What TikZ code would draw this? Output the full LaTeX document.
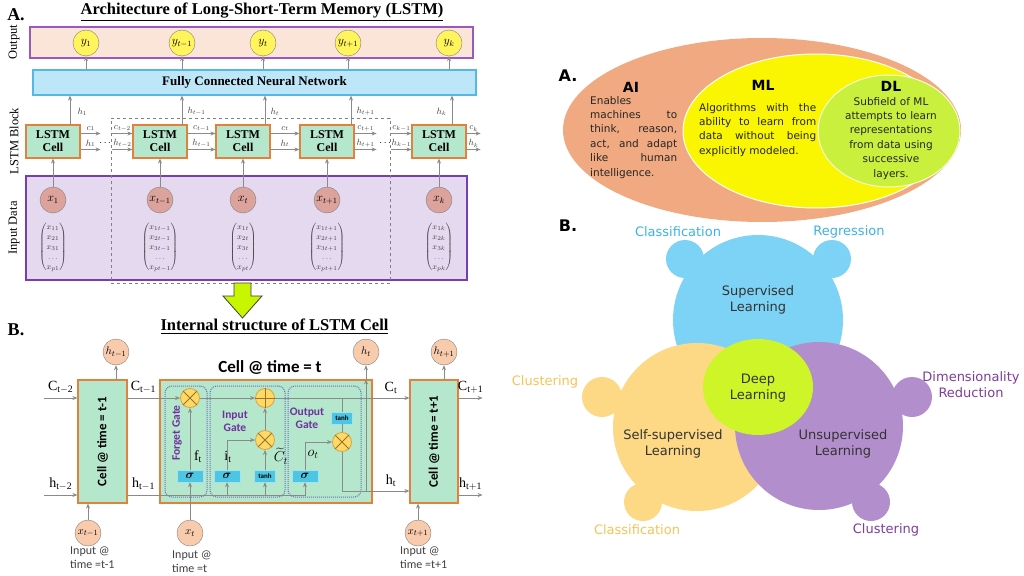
\documentclass[tikz,border=0pt]{standalone}
\usepackage{amsmath}
\usepackage{fontspec}
\setmainfont{Liberation Serif}
\newfontfamily\calfont{Carlito}
\newfontfamily\verfont{DejaVu Sans}
\usetikzlibrary{shapes.geometric,calc,arrows.meta,positioning,fit,backgrounds}

\definecolor{outpink}{HTML}{FBE4D8}
\definecolor{outline}{HTML}{9B59C0}
\definecolor{fcnblue}{HTML}{BDE7F8}
\definecolor{fcnline}{HTML}{52B8E8}
\definecolor{cellgreen}{HTML}{B4E7CB}
\definecolor{cellline}{HTML}{E2803C}
\definecolor{inlav}{HTML}{E5D9EF}
\definecolor{inpurple}{HTML}{7A3DB0}
\definecolor{xrose}{HTML}{DCA29C}
\definecolor{yyellow}{HTML}{FFF45C}
\definecolor{peach}{HTML}{F8CBAD}
\definecolor{gateyel}{HTML}{FFD966}
\definecolor{opline}{HTML}{D9A441}
\definecolor{sigcyan}{HTML}{4CC6E3}
\definecolor{gatetxt}{HTML}{7030A0}
\definecolor{gateline}{HTML}{6F6FC8}
\definecolor{arrowlime}{HTML}{C8F500}
\definecolor{aiorange}{HTML}{F0A980}
\definecolor{mlyellow}{HTML}{FAF500}
\definecolor{dlgreen}{HTML}{C9F03C}
\definecolor{supblue}{HTML}{7DD3F5}
\definecolor{supline}{HTML}{3DB3E3}
\definecolor{selfyel}{HTML}{FDD985}
\definecolor{selfline}{HTML}{F5C458}
\definecolor{unspurp}{HTML}{B28ECC}
\definecolor{unsline}{HTML}{7E3E99}
\definecolor{deeplime}{HTML}{CDF527}
\definecolor{wirecol}{HTML}{8A8A8A}

\begin{document}
\begin{tikzpicture}[x=1pt,y=-1pt, >={Stealth[length=5pt,width=4pt]},
    every node/.style={inner sep=0pt},
    band/.style={draw, line width=1.2},
    lstm/.style={draw=cellline, fill=cellgreen, line width=1.2, minimum width=54, minimum height=33, align=center, font=\fontsize{12}{13}\selectfont\bfseries},
    ycirc/.style={circle, draw=gray, fill=yyellow, minimum size=26, font=\fontsize{12}{12}\selectfont},
    xcirc/.style={circle, draw=gray, fill=xrose, minimum size=26, font=\fontsize{12}{12}\selectfont},
    flow/.style={->, draw=wirecol, line width=1},
    lbl/.style={font=\fontsize{9}{9}\selectfont, text=darkgray},
    side/.style={rotate=90, font=\fontsize{12.5}{12.5}\selectfont},
    vec/.style={font=\fontsize{8}{10}\selectfont, text=darkgray},
    cellbox/.style={draw=cellline, fill=cellgreen, line width=1.2, minimum height=123},
    celltxt/.style={rotate=90, font=\calfont\bfseries\fontsize{13}{13}\selectfont},
    pcirc/.style={circle, draw=gray, fill=peach, minimum size=26, font=\fontsize{11}{11}\selectfont},
    gatebox/.style={draw=gateline, densely dotted, line width=1, rounded corners=7, minimum height=111},
    opcirc/.style={circle, draw=opline, fill=gateyel, minimum size=19, line width=0.8},
    sigbox/.style={fill=sigcyan, draw=sigcyan!50!white, minimum width=26, minimum height=12, font=\fontsize{13}{13}\selectfont},
    tanhbox/.style={fill=sigcyan, draw=sigcyan!50!white, minimum width=21, minimum height=12, font=\calfont\bfseries\fontsize{7}{7}\selectfont},
    gatelbl/.style={text=gatetxt, align=center, font=\calfont\bfseries\fontsize{11.5}{13}\selectfont},
    big/.style={font=\fontsize{14}{14}\selectfont},
    inlbl/.style={align=left, text=darkgray, font=\calfont\fontsize{12}{14}\selectfont},
    vhead/.style={font=\verfont\bfseries\fontsize{14}{14}\selectfont},
    vbody/.style={font=\verfont\fontsize{10.5}{14.4}\selectfont, text=black!85},
    vlbl/.style={align=center, font=\verfont\fontsize{13}{16}\selectfont}]

    \path[fill=white, use as bounding box] (0,0) rectangle (1024,575);

    % ---------- A. LSTM architecture
    \node[font=\fontsize{18}{18}\selectfont\bfseries] (labA) at (16,15) {A.};
    \node[font=\fontsize{16.5}{17}\selectfont\bfseries] (titA) at (262,12) {\underline{Architecture of Long-Short-Term Memory (LSTM)}};
    \node[band, draw=outline, fill=outpink, minimum width=443, minimum height=31] (outband) at (251.5,42.5) {};
    \node[band, draw=fcnline, fill=fcnblue, minimum width=443, minimum height=25, font=\fontsize{13}{13}\selectfont\bfseries] (fcn) at (254.5,82.5) {Fully Connected Neural Network};
    \node[band, draw=inpurple, fill=inlav, minimum width=441, minimum height=104] (inband) at (246.5,228) {};
    \node[draw=gray, dashed, line width=0.9, minimum width=279, minimum height=165] (window) at (250.5,200.5) {};
    \node[side] (sOut) at (14,42) {Output};
    \node[side] (sBlock) at (14,141) {LSTM Block};
    \node[side] (sIn) at (14,228) {Input Data};

    \node[ycirc] (y1) at (86,43) {$y_1$};
    \node[ycirc] (y2) at (182,43) {$y_{t-1}$};
    \node[ycirc] (y3) at (263,43) {$y_t$};
    \node[ycirc] (y4) at (348,43) {$y_{t+1}$};
    \node[ycirc] (y5) at (449,43) {$y_k$};
    \draw[flow] (y1 |- fcn.north) -- (y1);
    \draw[flow] (y2 |- fcn.north) -- (y2);
    \draw[flow] (y3 |- fcn.north) -- (y3);
    \draw[flow] (y4 |- fcn.north) -- (y4);
    \draw[flow] (y5 |- fcn.north) -- (y5);

    \node[lstm] (cell1) at (53,141.5) {LSTM\\Cell};
    \node[lstm] (cell2) at (160,141.5) {LSTM\\Cell};
    \node[lstm] (cell3) at (243,141.5) {LSTM\\Cell};
    \node[lstm] (cell4) at (327,141.5) {LSTM\\Cell};
    \node[lstm] (cell5) at (439,141.5) {LSTM\\Cell};
    \draw[flow] ([xshift=17]cell1.north) -- ([xshift=17]cell1.north |- fcn.south) node[lbl, pos=0.45, right=7pt] {$h_1$};
    \draw[flow] ([xshift=22]cell2.north) -- ([xshift=22]cell2.north |- fcn.south) node[lbl, pos=0.45, right=5pt] {$h_{t-1}$};
    \draw[flow] ([xshift=22]cell3.north) -- ([xshift=22]cell3.north |- fcn.south) node[lbl, pos=0.45, right=5pt] {$h_t$};
    \draw[flow] ([xshift=24]cell4.north) -- ([xshift=24]cell4.north |- fcn.south) node[lbl, pos=0.45, right=5pt] {$h_{t+1}$};
    \draw[flow] ([xshift=13]cell5.north) -- ([xshift=13]cell5.north |- fcn.south) node[lbl, pos=0.45, left=5pt] {$h_k$};

    % state arrows between cells
    \draw[flow] ([yshift=8]cell1.east) -- ++(20,0) node[lbl, midway, above=2pt] {$c_1$};
    \draw[flow] ([yshift=-8]cell1.east) -- ++(20,0) node[lbl, midway, above=2pt] {$h_1$};
    \node[font=\bfseries] (dots1) at (106,143) {$\cdots$};
    \draw[flow] ([yshift=8,xshift=-20]cell2.west) -- ([yshift=8]cell2.west) node[lbl, midway, above=2pt] {$c_{t-2}$};
    \draw[flow] ([yshift=-8,xshift=-20]cell2.west) -- ([yshift=-8]cell2.west) node[lbl, midway, above=2pt] {$h_{t-2}$};
    \draw[flow] ([yshift=8]cell2.east) -- ([yshift=8]cell3.west) node[lbl, midway, above=2pt] {$c_{t-1}$};
    \draw[flow] ([yshift=-8]cell2.east) -- ([yshift=-8]cell3.west) node[lbl, midway, above=2pt] {$h_{t-1}$};
    \draw[flow] ([yshift=8]cell3.east) -- ([yshift=8]cell4.west) node[lbl, midway, above=2pt] {$c_t$};
    \draw[flow] ([yshift=-8]cell3.east) -- ([yshift=-8]cell4.west) node[lbl, midway, above=2pt] {$h_t$};
    \draw[flow] ([yshift=8]cell4.east) -- ++(22,0) node[lbl, midway, above=2pt] {$c_{t+1}$};
    \draw[flow] ([yshift=-8]cell4.east) -- ++(22,0) node[lbl, midway, above=2pt] {$h_{t+1}$};
    \node[font=\bfseries] (dots2) at (386,143) {$\cdots$};
    \draw[flow] ([yshift=8,xshift=-20]cell5.west) -- ([yshift=8]cell5.west) node[lbl, midway, above=2pt] {$c_{k-1}$};
    \draw[flow] ([yshift=-8,xshift=-20]cell5.west) -- ([yshift=-8]cell5.west) node[lbl, midway, above=2pt] {$h_{k-1}$};
    \draw[flow] ([yshift=8]cell5.east) -- ++(14,0) node[lbl, midway, above=2pt] {$c_k$};
    \draw[flow] ([yshift=-8]cell5.east) -- ++(14,0) node[lbl, midway, above=2pt] {$h_k$};

    % inputs
    \node[xcirc] (x1) at (53,200) {$x_1$};
    \node[xcirc] (x2) at (160,200) {$x_{t-1}$};
    \node[xcirc] (x3) at (243,200) {$x_t$};
    \node[xcirc] (x4) at (327,200) {$x_{t+1}$};
    \node[xcirc] (x5) at (439,200) {$x_k$};
    \draw[flow] (x1) -- (cell1);
    \draw[flow] (x2) -- (cell2);
    \draw[flow] (x3) -- (cell3);
    \draw[flow] (x4) -- (cell4);
    \draw[flow] (x5) -- (cell5);
    \node[vec] (v1) at (53,247) {$\begin{pmatrix}x_{11}\\x_{21}\\x_{31}\\\dots\\x_{p1}\end{pmatrix}$};
    \node[vec] (v2) at (160,247) {$\begin{pmatrix}x_{1t-1}\\x_{2t-1}\\x_{3t-1}\\\dots\\x_{pt-1}\end{pmatrix}$};
    \node[vec] (v3) at (243,247) {$\begin{pmatrix}x_{1t}\\x_{2t}\\x_{3t}\\\dots\\x_{pt}\end{pmatrix}$};
    \node[vec] (v4) at (327,247) {$\begin{pmatrix}x_{1t+1}\\x_{2t+1}\\x_{3t+1}\\\dots\\x_{pt+1}\end{pmatrix}$};
    \node[vec] (v5) at (439,247) {$\begin{pmatrix}x_{1k}\\x_{2k}\\x_{3k}\\\dots\\x_{pk}\end{pmatrix}$};

    \draw[fill=arrowlime, draw=darkgray, line width=0.8] (234,283) -- (251,283) -- (251,296) -- (262,296) -- (242.5,318) -- (223,296) -- (234,296) -- cycle;

    % ---------- B. inside one cell
    \node[font=\fontsize{18}{18}\selectfont\bfseries] (labB) at (16,330) {B.};
    \node[font=\fontsize{16.5}{17}\selectfont\bfseries] (titB) at (274.5,327) {\underline{Internal structure of LSTM Cell}};
    \node[font=\calfont\bfseries\fontsize{17}{17}\selectfont] (ctitle) at (270,367) {Cell @ time = t};

    \node[cellbox, minimum width=49] (cleft) at (102.5,441.5) {};
    \node[cellbox, minimum width=212] (cmain) at (266,441.5) {};
    \node[cellbox, minimum width=48] (cright) at (434,441.5) {};
    \node[celltxt] (cleftT) at (cleft) {Cell @ time = t-1};
    \node[celltxt] (crightT) at (cright) {Cell @ time = t+1};

    \node[gatebox, minimum width=42] (gforget) at (186,441.5) {};
    \node[gatebox, minimum width=75] (ginput) at (247.5,441.5) {};
    \node[gatebox, minimum width=73] (goutput) at (324.5,441.5) {};
    \node[gatelbl, rotate=90] (gforgetT) at (177,433) {Forget Gate};
    \node[gatelbl] (ginputT) at (235,421) {Input\\Gate};
    \node[gatelbl] (goutputT) at (307,418) {Output\\Gate};

    \node[opcirc] (fx) at (190,398) {};
    \node[opcirc] (ip) at (265,398) {};
    \node[opcirc] (ix) at (265,440) {};
    \node[opcirc] (ox) at (342,442) {};
    \draw[opline!70!black, line width=0.8] (fx.north west) -- (fx.south east) (fx.north east) -- (fx.south west);
    \draw[opline!70!black, line width=0.8] (ix.north west) -- (ix.south east) (ix.north east) -- (ix.south west);
    \draw[opline!70!black, line width=0.8] (ox.north west) -- (ox.south east) (ox.north east) -- (ox.south west);
    \draw[opline!70!black, line width=0.8] (ip.north) -- (ip.south) (ip.west) -- (ip.east);

    \node[sigbox] (fs) at (190,476) {$\boldsymbol{\sigma}$};
    \node[sigbox] (is) at (227,476) {$\boldsymbol{\sigma}$};
    \node[tanhbox] (it) at (265,476) {tanh};
    \node[sigbox] (os) at (305,476) {$\boldsymbol{\sigma}$};
    \node[tanhbox] (ot) at (342,418) {tanh};

    \node[big] (ftL) at (198,457) {$\mathrm{f}_\mathrm{t}$};
    \node[big] (itL) at (228,457) {$\mathrm{i}_\mathrm{t}$};
    \node[big] (ctL) at (281,456) {$\widetilde{C}_t$};
    \node[big] (otL) at (313,454) {$o_t$};

    \node[pcirc] (htm1) at (116,352) {$h_{t-1}$};
    \node[pcirc] (ht) at (366,352) {$h_t$};
    \node[pcirc] (htp1) at (444,352) {$h_{t+1}$};
    \node[pcirc] (xtm1) at (88,533) {$x_{t-1}$};
    \node[pcirc] (xt) at (190,533) {$x_t$};
    \node[pcirc] (xtp1) at (418,533) {$x_{t+1}$};
    \node[inlbl, anchor=north west] (xtm1L) at (70,547) {Input @\\time =t-1};
    \node[inlbl, anchor=north west] (xtL) at (172,551) {Input @\\time =t};
    \node[inlbl, anchor=north west] (xtp1L) at (400,547) {Input @\\time =t+1};

    \coordinate (crow) at (0,398);
    \coordinate (hrow) at (0,495);
    \coordinate (hout) at (0,491);
    \coordinate (cin) at (44,398);
    \coordinate (hin) at (44,495);

    % cell state line
    \draw[flow] (cin) -- (cleft.west |- crow) node[big, midway, above=4pt] {$\mathrm{C}_{\mathrm{t-2}}$};
    \draw[draw=wirecol, line width=1] (cleft.east |- crow) -- (cmain.west |- crow) node[big, midway, above=4pt] {$\mathrm{C}_{\mathrm{t-1}}$};
    \draw[flow] (cmain.west |- crow) -- (fx);
    \draw[flow] (fx) -- (ip);
    \draw[draw=wirecol, line width=1] (ip) -- (cmain.east |- crow);
    \draw[flow] (cmain.east |- crow) -- (cright.west |- crow) node[big, midway, above=4pt] {$\mathrm{C}_{\mathrm{t}}$};
    \draw[flow] (cright.east |- crow) -- ++(24,0) node[big, midway, above=4pt] {$\mathrm{C}_{\mathrm{t+1}}$};

    % hidden state line
    \draw[flow] (hin) -- (cleft.west |- hrow) node[big, midway, above=4pt] {$\mathrm{h}_{\mathrm{t-2}}$};
    \draw[draw=wirecol, line width=1] (cleft.east |- hrow) -- (cmain.west |- hrow) node[big, midway, above=4pt] {$\mathrm{h}_{\mathrm{t-1}}$};
    \draw[flow] (cmain.west |- hrow) -| (os.south);
    \draw[flow] (is |- hrow) -- (is.south);
    \draw[flow] (it |- hrow) -- (it.south);
    \draw[draw=wirecol, line width=1] (ox) |- (cmain.east |- hout);
    \draw[flow] (cmain.east |- hout) -- (cright.west |- hout) node[big, midway, above=4pt] {$\mathrm{h}_{\mathrm{t}}$};
    \draw[flow] (cright.east |- hrow) -- ++(24,0) node[big, midway, above=4pt] {$\mathrm{h}_{\mathrm{t+1}}$};
    \draw[flow] (ht |- hout) -- (ht |- cmain.north);
    \draw[flow] (ht |- cmain.north) -- (ht);

    % gate wiring
    \draw[flow] (xt) -- (fs.south);
    \draw[flow] (fs) -- (fx);
    \draw[flow] (is.north) |- (ix);
    \draw[flow] (it) -- (ix);
    \draw[flow] (ix) -- (ip);
    \draw[draw=wirecol, line width=1] (ot |- crow) -- (ot);
    \draw[draw=wirecol, line width=1] (ot) -- (ox);
    \draw[flow] (os.north) |- (ox);

    \draw[flow] (cleft.north -| htm1) -- (htm1);
    \draw[flow] (cright.north -| htp1) -- (htp1);
    \draw[flow] (xtm1) -- (cleft.south -| xtm1);
    \draw[flow] (xtp1) -- (cright.south -| xtp1);

    % ---------- right A. nested sets
    \node[font=\verfont\bfseries\fontsize{16}{16}\selectfont] (labRA) at (568,76) {A.};
    \node[ellipse, fill=aiorange, minimum width=398, minimum height=184] (ai) at (762,130) {};
    \node[ellipse, fill=mlyellow, draw=white, line width=1, minimum width=266, minimum height=154] (ml) at (816,131) {};
    \node[ellipse, fill=dlgreen, draw=white!80!dlgreen, line width=1, minimum width=142, minimum height=112] (dl) at (889,131) {};
    \node[vhead] (aiH) at (631,87) {AI};
    \node[vhead] (mlH) at (763,85) {ML};
    \node[vhead] (dlH) at (891,86) {DL};
    \node[vbody, text width=87, align=justify, anchor=north west] (aiT) at (590,96) {Enables\linebreak machines to\linebreak think, reason,\linebreak act, and adapt\linebreak like human\linebreak intelligence.};
    \node[vbody, text width=117, align=justify, anchor=north west] (mlT) at (699,103) {Algorithms with the\linebreak ability to learn from\linebreak data without being\linebreak explicitly modeled.};
    \node[vbody, text width=110, align=center, anchor=north] (dlT) at (891,97) {Subfield of ML\\attempts to learn\\representations\\from data using\\successive\\layers.};

    % ---------- right B. learning families
    \node[font=\verfont\bfseries\fontsize{16}{16}\selectfont] (labRB) at (568,226) {B.};
    \node[circle, fill=supblue, minimum size=38] (supL) at (685,259) {};
    \node[circle, fill=supblue, minimum size=38] (supR) at (832,259) {};
    \node[circle, fill=supblue, minimum size=170] (sup) at (758,320) {};
    \node[circle, fill=selfyel, minimum size=40] (selfL) at (602,397) {};
    \node[circle, fill=selfyel, minimum size=38] (selfB) at (643,502) {};
    \node[circle, fill=selfyel, minimum size=168] (self) at (697,427) {};
    \node[circle, fill=unspurp, minimum size=40] (unsR) at (912,397) {};
    \node[circle, fill=unspurp, minimum size=38] (unsB) at (871,502) {};
    \node[circle, fill=unspurp, minimum size=168] (uns) at (819,426) {};
    \node[ellipse, fill=deeplime, minimum width=110, minimum height=96] (deep) at (758,387) {};

    \node[vlbl, text=black!80] (supT) at (758,300) {Supervised\\Learning};
    \node[vlbl, text=black!80] (deepT) at (758,388) {Deep\\Learning};
    \node[vlbl, text=black!80] (selfT) at (673,444) {Self-supervised\\Learning};
    \node[vlbl, text=black!80] (unsT) at (843,444) {Unsupervised\\Learning};
    \node[vlbl, text=supline] (supLT) at (678,232) {Classification};
    \node[vlbl, text=supline] (supRT) at (849,232) {Regression};
    \node[vlbl, text=selfline] (selfLT) at (545,382) {Clustering};
    \node[vlbl, text=selfline] (selfBT) at (637,530) {Classification};
    \node[vlbl, text=unsline] (unsRT) at (971,385) {Dimensionality\\Reduction};
    \node[vlbl, text=unsline] (unsBT) at (886,530) {Clustering};
\end{tikzpicture}
\end{document}
